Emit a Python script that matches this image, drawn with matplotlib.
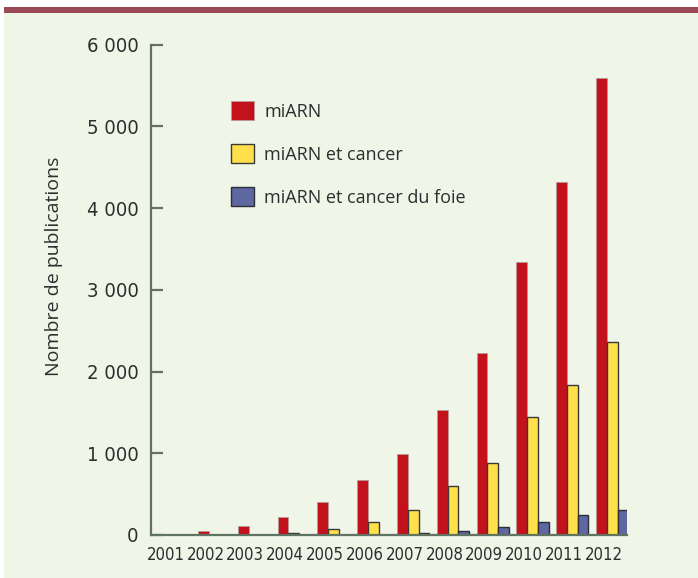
import matplotlib
matplotlib.use("Agg")
import matplotlib.pyplot as plt
import numpy as np
from matplotlib.patches import Rectangle
from matplotlib import font_manager

years = ["2001", "2002", "2003", "2004", "2005", "2006",
         "2007", "2008", "2009", "2010", "2011", "2012"]
mirna = [0, 45, 110, 220, 400, 670, 988, 1527, 2225, 3338, 4317, 5594]
mirna_cancer = [0, 3, 5, 30, 69, 163, 306, 600, 885, 1448, 1836, 2362]
mirna_foie = [0, 2, 3, 3, 2, 5, 20, 49, 102, 155, 249, 302]
series_labels = ["miARN", "miARN et cancer", "miARN et cancer du foie"]
yticks = [0, 1000, 2000, 3000, 4000, 5000, 6000]
ytick_labels = ["0", "1 000", "2 000", "3 000", "4 000", "5 000", "6 000"]

BG = "#EFF5E7"
AXC = "#5F7462"
TXT = "#2E2E2E"
RED = "#C4121C"
YEL = "#FFDF4A"
BLU = "#5E679F"

names = {f.name for f in font_manager.fontManager.ttflist}
if "DejaVu Sans Condensed" in names:
    COND = {"family": "DejaVu Sans Condensed"}
else:
    COND = {"family": "DejaVu Sans", "stretch": "condensed"}

W, H = 698, 578
fig = plt.figure(figsize=(W / 100, H / 100), dpi=100)
fig.patch.set_facecolor("white")
fig.add_artist(Rectangle((4 / W, 0), 1, 1 - 13 / H, transform=fig.transFigure,
                         facecolor=BG, edgecolor="none", zorder=-10))
fig.add_artist(Rectangle((4 / W, 1 - 13 / H), 1, 6 / H, transform=fig.transFigure,
                         facecolor="#9A4A55", edgecolor="none", zorder=-9))

x0, x1 = 151, 626.7
y0, y1 = 535, 44.7
ax = fig.add_axes([x0 / W, 1 - y0 / H, (x1 - x0) / W, (y0 - y1) / H])
ax.set_facecolor("none")

x = np.arange(len(years))
bw = 0.27
ax.bar(x - bw, mirna, bw, color=RED, edgecolor="#B09C9C", linewidth=0.5,
       align="edge", label=series_labels[0], zorder=3)
ax.bar(x, mirna_cancer, bw, color=YEL, edgecolor="#3A3A3A", linewidth=1.0,
       align="edge", label=series_labels[1], zorder=3)
ax.bar(x + bw, mirna_foie, bw, color=BLU, edgecolor="#2E2E3A", linewidth=1.0,
       align="edge", label=series_labels[2], zorder=3)

ax.set_xlim(-0.45, 11.5)
ax.set_ylim(0, 6000)

for s in ["top", "right"]:
    ax.spines[s].set_visible(False)
for s in ["left", "bottom"]:
    ax.spines[s].set_color(AXC)
    ax.spines[s].set_linewidth(1.6)
    ax.spines[s].set_zorder(4)

ax.set_yticks(yticks)
ax.set_yticklabels(ytick_labels, fontsize=14.5, color=TXT, **COND)
ax.tick_params(axis="y", direction="in", length=8.5, width=1.6, color=AXC, pad=9)
ax.set_xticks(x - 0.08)
ax.set_xticklabels(years, fontsize=12, color=TXT, **COND)
ax.tick_params(axis="x", length=0, pad=8)

ax.set_ylabel("Nombre de publications", fontfamily="Open Sans", fontsize=14,
              color=TXT)
ax.yaxis.set_label_coords(-0.185, 0.547)

leg = ax.legend(loc="upper left", bbox_to_anchor=(0.168, 0.885), frameon=False,
                prop={"family": "Open Sans", "size": 13},
                handlelength=1.3, handleheight=1.25, labelspacing=1.3,
                handletextpad=0.55, borderpad=0, borderaxespad=0)
for t in leg.get_texts():
    t.set_color(TXT)

fig.savefig("out.png", dpi=100, facecolor=fig.get_facecolor())
